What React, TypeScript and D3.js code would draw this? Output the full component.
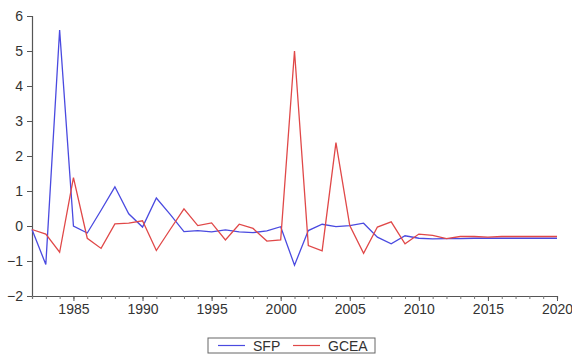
import React, { useEffect, useRef } from "react";
import * as d3 from "d3";

const years = d3.range(1982, 2021);
const sfp = [
  -0.1, -1.1, 5.6, 0.0, -0.2, 0.45, 1.12, 0.35, -0.03, 0.8,
  0.33, -0.16, -0.13, -0.17, -0.11, -0.17, -0.19, -0.14, -0.02, -1.12,
  -0.13, 0.05, -0.02, 0.01, 0.08, -0.32, -0.51, -0.28, -0.35, -0.37,
  -0.36, -0.36, -0.35, -0.35, -0.35, -0.35, -0.35, -0.35, -0.35,
];
const gcea = [
  -0.1, -0.23, -0.75, 1.38, -0.35, -0.64, 0.06, 0.08, 0.15, -0.7,
  -0.1, 0.49, 0.01, 0.09, -0.4, 0.05, -0.07, -0.43, -0.4, 5.0,
  -0.56, -0.71, 2.38, 0.01, -0.78, -0.03, 0.12, -0.51, -0.23, -0.27,
  -0.36, -0.3, -0.3, -0.32, -0.3, -0.3, -0.3, -0.3, -0.3,
];
const yTicks = [-2, -1, 0, 1, 2, 3, 4, 5, 6];
const xTicks = [1985, 1990, 1995, 2000, 2005, 2010, 2015, 2020];
const seriesNames = ["SFP", "GCEA"];
const seriesColors = ["#4a4ae0", "#e04848"];

export default function App() {
  const ref = useRef<SVGSVGElement>(null);

  useEffect(() => {
    const svg = d3.select(ref.current);
    svg.selectAll("*").remove();

    const left = 32, right = 557, top = 16, bottom = 296;
    const x = d3.scaleLinear().domain([1982, 2020]).range([left, right]);
    const y = d3.scaleLinear().domain([-2, 6]).range([bottom, top]);
    const font = "Arial, 'Liberation Sans', sans-serif";

    // y axis
    const ya = svg.append("g").attr("transform", `translate(${left},0)`)
      .call(d3.axisLeft(y).tickValues(yTicks).tickFormat(d3.format("d")).tickSize(5).tickPadding(4));
    ya.select(".domain").attr("stroke", "#555").attr("stroke-width", 1.2);
    ya.selectAll(".tick line").attr("stroke", "#555");
    ya.selectAll("text").attr("font-family", font).attr("font-size", 14).attr("fill", "#333");

    // x axis minor ticks
    const xm = svg.append("g").attr("transform", `translate(0,${bottom})`)
      .call(d3.axisBottom(x).tickValues(years).tickFormat(() => "").tickSize(3));
    xm.select(".domain").attr("stroke", "#555").attr("stroke-width", 1.2);
    xm.selectAll(".tick line").attr("stroke", "#777");

    const xa = svg.append("g").attr("transform", `translate(0,${bottom})`)
      .call(d3.axisBottom(x).tickValues(xTicks).tickFormat(d3.format("d")).tickSize(5).tickPadding(3));
    xa.select(".domain").remove();
    xa.selectAll(".tick line").attr("stroke", "#555");
    xa.selectAll("text").attr("font-family", font).attr("font-size", 14).attr("fill", "#333");

    const line = d3.line<number>().x((_, i) => x(years[i])).y((d) => y(d));
    [sfp, gcea].forEach((s, k) => {
      svg.append("path").datum(s).attr("d", line).attr("fill", "none")
        .attr("stroke", seriesColors[k]).attr("stroke-width", 1.3);
    });

    // legend
    const lg = svg.append("g");
    lg.append("rect").attr("x", 208).attr("y", 338).attr("width", 167).attr("height", 15)
      .attr("fill", "white").attr("stroke", "#666");
    const offs = [218, 293];
    seriesNames.forEach((n, k) => {
      lg.append("line").attr("x1", offs[k]).attr("x2", offs[k] + 27).attr("y1", 345.5).attr("y2", 345.5)
        .attr("stroke", seriesColors[k]).attr("stroke-width", 1.2);
      lg.append("text").attr("x", offs[k] + 35).attr("y", 350.5).text(n)
        .attr("font-family", font).attr("font-size", 14).attr("fill", "#333");
    });
  }, []);

  return (
    <svg ref={ref} width={572} height={358}
      style={{ position: "absolute", left: 0, top: 0, background: "white" }} />
  );
}
